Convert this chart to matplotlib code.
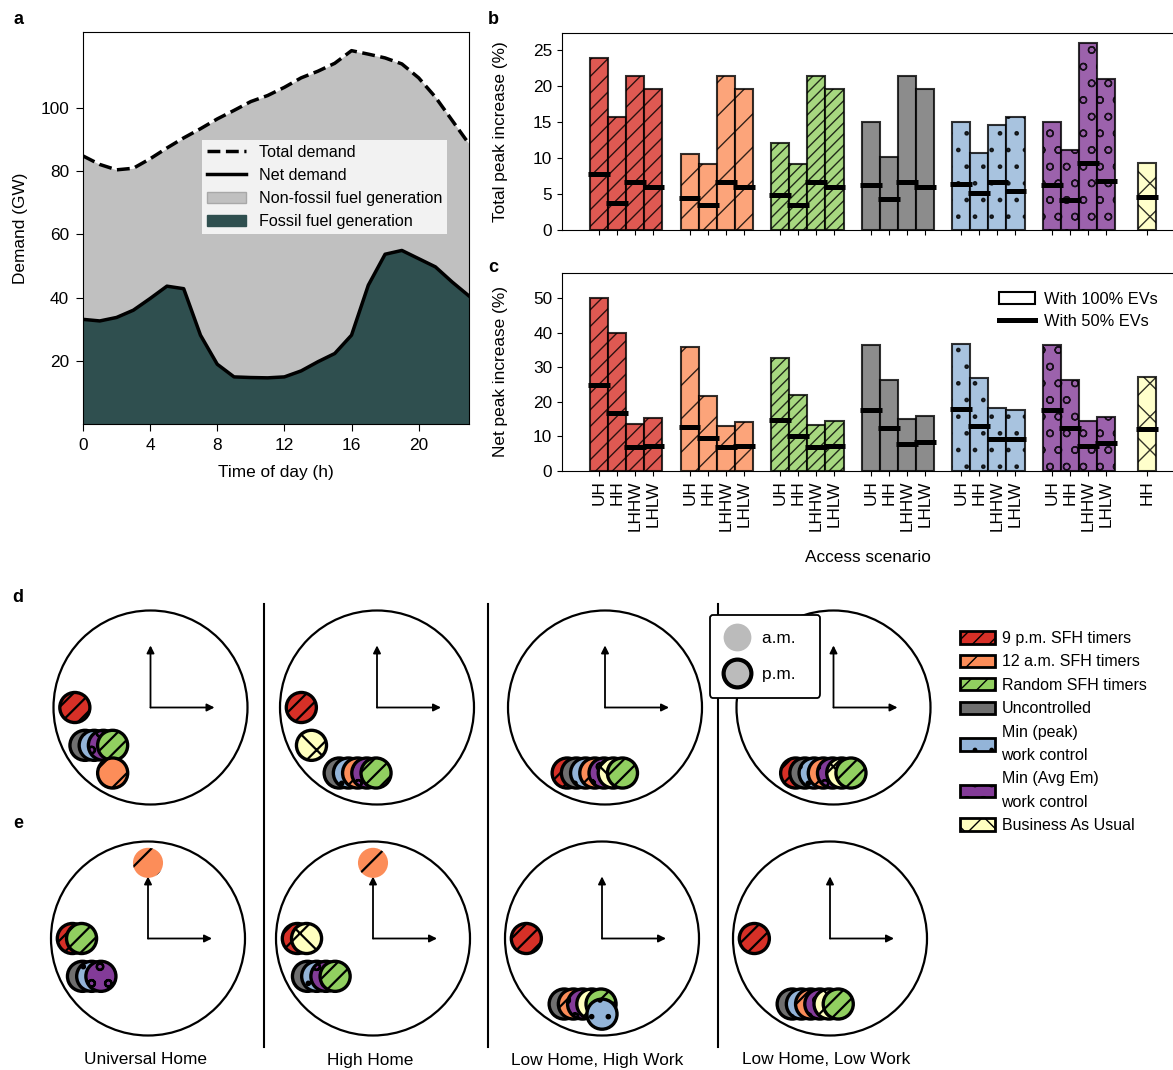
import numpy as np
import matplotlib
matplotlib.use('Agg')
import matplotlib.pyplot as plt
from matplotlib.patches import Circle, Patch
from matplotlib.lines import Line2D

plt.rcParams['font.family'] = ['Liberation Sans', 'DejaVu Sans']
plt.rcParams['font.size'] = 12.4

# ---------------- data ----------------
hours = list(range(24))
total_demand = [84.8, 82.1, 80.4, 80.9, 83.9, 87.3, 90.5, 93.4, 96.5, 99.2, 102.0, 103.9,
                106.5, 109.5, 111.6, 114.1, 118.1, 117.0, 115.8, 113.9, 109.5, 103.4, 96.0, 88.6]
net_demand = [33.1, 32.6, 33.7, 36.0, 39.7, 43.6, 42.8, 28.1, 18.9, 14.9, 14.7, 14.6,
              14.9, 16.8, 19.7, 22.3, 28.1, 43.9, 53.7, 54.9, 52.3, 49.7, 44.9, 40.5]

access = ['UH', 'HH', 'LHHW', 'LHLW']
strategies = ['9 p.m. SFH timers', '12 a.m. SFH timers', 'Random SFH timers', 'Uncontrolled',
              'Min (peak)\nwork control', 'Min (Avg Em)\nwork control', 'Business As Usual']
bau_access = ['HH']

# Total peak increase (%), 100% EVs (bars) and 50% EVs (lines)
total100_sfh9 = [23.8, 15.7, 21.3, 19.6]
total100_sfh12 = [10.6, 9.1, 21.3, 19.6]
total100_random = [12.1, 9.1, 21.3, 19.6]
total100_unc = [14.9, 10.1, 21.3, 19.6]
total100_minpeak = [15.0, 10.7, 14.6, 15.6]
total100_minem = [14.9, 11.1, 25.9, 20.9]
total100_bau = [9.3]
total50_sfh9 = [7.8, 3.8, 6.7, 5.9]
total50_sfh12 = [4.5, 3.4, 6.7, 5.9]
total50_random = [4.8, 3.4, 6.7, 5.9]
total50_unc = [6.2, 4.3, 6.7, 5.9]
total50_minpeak = [6.4, 5.1, 6.6, 5.4]
total50_minem = [6.2, 4.2, 9.3, 6.8]
total50_bau = [4.6]

# Net peak increase (%)
net100_sfh9 = [50.1, 40.0, 13.4, 15.3]
net100_sfh12 = [35.9, 21.7, 12.9, 14.0]
net100_random = [32.5, 21.8, 13.1, 14.3]
net100_unc = [36.4, 26.4, 14.9, 15.9]
net100_minpeak = [36.6, 26.7, 18.0, 17.6]
net100_minem = [36.4, 26.4, 14.4, 15.5]
net100_bau = [27.0]
net50_sfh9 = [24.9, 16.6, 6.7, 7.1]
net50_sfh12 = [12.6, 9.4, 6.7, 7.1]
net50_random = [14.7, 9.9, 6.8, 7.2]
net50_unc = [17.6, 12.3, 7.6, 8.2]
net50_minpeak = [17.7, 12.9, 9.1, 9.1]
net50_minem = [17.6, 12.2, 7.2, 7.9]
net50_bau = [11.9]

# Hour of day (0-23) of the peak, per access scenario, in strategy order (None = absent)
peak_hour_total = {
    'UH':   [21, 19, 20, 20, 20, 20, None],
    'HH':   [21, 19, 19, 19, 19, 19, 20],
    'LHHW': [19, 19, 19, 19, 19, 19, 19],
    'LHLW': [19, 19, 19, 19, 19, 19, 19],
}
peak_hour_net = {
    'UH':   [21, 0, 21, 20, 20, 20, None],
    'HH':   [21, 0, 20, 20, 20, 20, 21],
    'LHHW': [21, 19, 19, 19, 18, 19, 19],
    'LHLW': [21, 19, 19, 19, 19, 19, 19],
}
access_names = ['Universal Home', 'High Home', 'Low Home, High Work', 'Low Home, Low Work']

# ---------------- styles ----------------
colors = ['#d73027', '#fc8d59', '#91cf60', '#6f6f6f', '#93b4d8', '#833b98', '#ffffbf']
hatches = ['//', '/', '///', '', '.', 'o', 'x']
mhatches = ['//', '/', '//', '', '.', 'o', 'x']
stack_order = [0, 3, 4, 1, 5, 6, 2]   # left-to-right order when peaks coincide

W, H = 1173, 1070
fig = plt.figure(figsize=(W / 100, H / 100), dpi=100)


def fx(px):
    return px / W


def fy(py):
    return 1 - py / H


# ---------------- panel a ----------------
ax_a = fig.add_axes([fx(83), fy(424), fx(469) - fx(83), fy(32) - fy(424)])
ax_a.fill_between(hours, net_demand, total_demand, color='#c0c0c0', lw=0)
ax_a.fill_between(hours, 0, net_demand, color='#2f4f4f', lw=0)
ax_a.plot(hours, total_demand, color='black', ls='--', lw=2.5)
ax_a.plot(hours, net_demand, color='black', lw=2.5)
ax_a.set_xlim(0, 23)
ax_a.set_ylim(0, 124)
ax_a.set_xticks([0, 4, 8, 12, 16, 20])
ax_a.set_yticks([20, 40, 60, 80, 100])
ax_a.tick_params(labelsize=12.4, length=5, pad=5)
ax_a.set_xlabel('Time of day (h)', fontsize=12.4, labelpad=9)
ax_a.set_ylabel('Demand (GW)', fontsize=12.4, labelpad=9)
leg_a = ax_a.legend(
    handles=[Line2D([], [], color='black', ls='--', lw=2.5),
             Line2D([], [], color='black', lw=2.5),
             Patch(facecolor='#c0c0c0', edgecolor='#a8a8a8', lw=1),
             Patch(facecolor='#2f4f4f', edgecolor='#2f4f4f')],
    labels=['Total demand', 'Net demand', 'Non-fossil fuel generation', 'Fossil fuel generation'],
    loc='upper left', bbox_to_anchor=((202 - 83) / 386, (424 - 140) / 392), borderaxespad=0,
    fontsize=11.6, frameon=True, facecolor='#f2f2f2', edgecolor='none', framealpha=1,
    fancybox=False, handlelength=2.4, handletextpad=0.85, labelspacing=0.5, borderpad=0.3)

# ---------------- panels b, c ----------------
tot100 = [total100_sfh9, total100_sfh12, total100_random, total100_unc, total100_minpeak, total100_minem]
tot50 = [total50_sfh9, total50_sfh12, total50_random, total50_unc, total50_minpeak, total50_minem]
n100 = [net100_sfh9, net100_sfh12, net100_random, net100_unc, net100_minpeak, net100_minem]
n50 = [net50_sfh9, net50_sfh12, net50_random, net50_unc, net50_minpeak, net50_minem]
group_gap = 5
bau_pos = 6 * group_gap + 0.25


def bars(ax, v100, v50, b100, b50):
    ticks, labels = [], []
    for g in range(6):
        xs = [g * group_gap + i for i in range(len(access))]
        ax.bar(xs, v100[g], width=1, color=colors[g], alpha=0.8, edgecolor='black',
               lw=1.5, hatch=hatches[g], zorder=2)
        ax.hlines(v50[g], [x - 0.6 for x in xs], [x + 0.6 for x in xs], color='black',
                  lw=3.6, zorder=3)
        ticks += xs
        labels += access
    xs = [bau_pos]
    ax.bar(xs, b100, width=1, color=colors[6], alpha=0.8, edgecolor='black', lw=1.5,
           hatch=hatches[6], zorder=2)
    ax.hlines(b50, [x - 0.6 for x in xs], [x + 0.6 for x in xs], color='black', lw=3.6, zorder=3)
    ticks += xs
    labels += bau_access
    ax.set_xticks(ticks)
    ax.set_xlim(-2.05, 31.7)
    ax.spines['right'].set_visible(False)
    ax.tick_params(labelsize=12.4)
    return labels


ax_b = fig.add_axes([fx(562), fy(230), 1 - fx(562), fy(33) - fy(230)])
bars(ax_b, tot100, tot50, total100_bau, total50_bau)
ax_b.set_ylim(0, 27.3)
ax_b.set_yticks([0, 5, 10, 15, 20, 25])
ax_b.set_xticklabels([])
ax_b.set_ylabel('Total peak increase (%)', fontsize=12.4)

ax_c = fig.add_axes([fx(562), fy(470.5), 1 - fx(562), fy(273) - fy(470.5)])
lab = bars(ax_c, n100, n50, net100_bau, net50_bau)
ax_c.set_ylim(0, 57.3)
ax_c.set_yticks([0, 10, 20, 30, 40, 50])
ax_c.set_xticklabels(lab, rotation=90, fontsize=12.4)
ax_c.set_ylabel('Net peak increase (%)', fontsize=12.4)
ax_c.set_xlabel('Access scenario', fontsize=12.4, labelpad=14)
ax_c.legend(handles=[Patch(facecolor='white', edgecolor='black', lw=1.5),
                     Line2D([], [], color='black', lw=3.6)],
            labels=['With 100% EVs', 'With 50% EVs'], loc='upper right',
            bbox_to_anchor=(1.0, 0.98), frameon=False, fontsize=11.8, handlelength=2.15,
            labelspacing=0.45, handletextpad=0.6)
for ax in (ax_b, ax_c):
    ax.yaxis.set_label_coords(-0.089, 0.5)

# ---------------- panels d, e: clocks ----------------
R_CLOCK = 97.0
R_POS = 0.78
R_MARK = 0.155
STEP = 0.095


def set_hlw(p, lw):
    if hasattr(p, 'set_hatch_linewidth'):
        p.set_hatch_linewidth(lw)


def clock(cx, cy, hrs):
    size = 2.2 * R_CLOCK
    ax = fig.add_axes([fx(cx - size / 2), fy(cy + size / 2), size / W, size / H])
    ax.set_xlim(-1.1, 1.1)
    ax.set_ylim(-1.1, 1.1)
    ax.axis('off')
    ax.add_patch(Circle((0, 0), 1.0, fill=False, ec='black', lw=1.6))
    arrow = dict(arrowstyle='-|>', lw=1.3, color='black', mutation_scale=11,
                 shrinkA=0, shrinkB=0)
    ax.annotate('', xy=(0, 0.64), xytext=(0, 0), arrowprops=arrow)
    ax.annotate('', xy=(0.66, 0), xytext=(0, 0), arrowprops=arrow)
    present = sorted(set(h for h in hrs if h is not None),
                     key=lambda h: -(h % 12 if h % 12 else 12))
    z = 3
    for h in present:
        theta = (h % 12) * np.pi / 6
        bx, by = R_POS * np.sin(theta), R_POS * np.cos(theta)
        rank = 0
        for k in stack_order:
            if hrs[k] != h:
                continue
            pm = h >= 12
            with plt.rc_context({'hatch.linewidth': 1.6}):
                c = Circle((bx + rank * STEP, by), R_MARK, facecolor=colors[k],
                           edgecolor='black', lw=2.4 if pm else 0, hatch=mhatches[k],
                           zorder=z)
            set_hlw(c, 1.6)
            ax.add_patch(c)
            rank += 1
            z += 1
    return ax


d_centers = [(150.5, 707.5), (377, 707.5), (605, 707.5), (833.5, 707.5)]
e_centers = [(148, 938.5), (373, 938.5), (602, 938.5), (830, 938.5)]
for (cx, cy), a in zip(d_centers, access):
    clock(cx, cy, peak_hour_total[a])
for (cx, cy), a in zip(e_centers, access):
    clock(cx, cy, peak_hour_net[a])

for xsep in [263.5, 488, 718]:
    fig.add_artist(Line2D([fx(xsep), fx(xsep)], [fy(604), fy(1047)], color='black', lw=1.5))

for xt, name in zip([145, 370, 597, 826], access_names):
    fig.text(fx(xt), fy(1060), name, ha='center', va='center', fontsize=12.4)

# strategy legend
handles = []
for k in range(7):
    with plt.rc_context({'hatch.linewidth': 1.6}):
        p = Patch(facecolor=colors[k], edgecolor='black', lw=2, hatch=mhatches[k])
    set_hlw(p, 1.6)
    handles.append(p)
leg_s = fig.legend(handles=handles, labels=strategies, loc='upper left',
                   bbox_to_anchor=(fx(960), fy(631)), borderaxespad=0, borderpad=0,
                   frameon=False, fontsize=11.5, handlelength=2.2, handleheight=0.8,
                   labelspacing=0.53, handletextpad=0.4)
for t in leg_s.get_texts():
    t.set_linespacing(1.68)

# a.m./p.m. legend
leg_t = fig.legend(handles=[Line2D([], [], marker='o', ls='', ms=20, mfc='#bbbbbb', mec='none'),
                            Line2D([], [], marker='o', ls='', ms=20, mfc='#bbbbbb', mec='black', mew=3)],
                   labels=['a.m.  ', 'p.m.  '], loc='upper left', bbox_to_anchor=(fx(710), fy(615)),
                   borderaxespad=0, frameon=True, fancybox=True, edgecolor='black',
                   facecolor='white', framealpha=1, fontsize=12.4, handlelength=1.3,
                   labelspacing=1.25, borderpad=0.9, handletextpad=0.8)
leg_t.get_frame().set_linewidth(1.3)

# panel letters
for (xl, yl), letter in zip([(18, 20), (493, 20), (493, 268), (18, 597), (18, 823)], 'abcde'):
    fig.text(fx(xl), fy(yl), letter, ha='center', va='center', fontsize=13, fontweight='bold')

fig.savefig('out.png', dpi=100)
